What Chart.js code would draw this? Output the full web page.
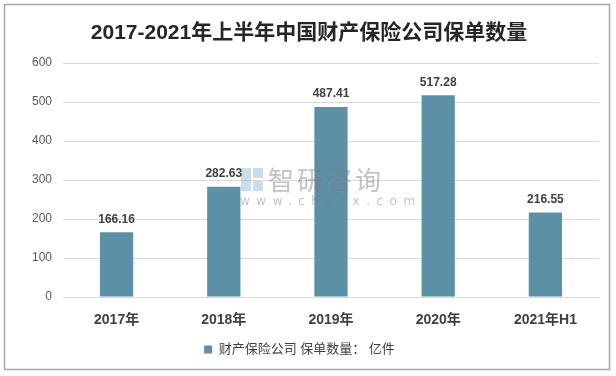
<!DOCTYPE html>
<html><head><meta charset="utf-8">
<script src="https://cdn.jsdelivr.net/npm/chart.js@4"></script>
<style>html,body{margin:0;padding:0;background:#fff}#w{width:616px;height:376px}</style>
</head><body><div id="w"><canvas id="c" width="616" height="376"></canvas></div>
<script>
const categories = ["2017年","2018年","2019年","2020年","2021年H1"];
const values = [166.16, 282.63, 487.41, 517.28, 216.55];
const seriesName = "财产保险公司 保单数量： 亿件";
const titleText = "2017-2021年上半年中国财产保险公司保单数量";
const yTicks = [0,100,200,300,400,500,600];

const FONT = "'Liberation Sans','Noto Sans CJK SC',sans-serif";

const deco = {
  id:'deco',
  beforeDraw(chart){
    const c = chart.ctx;
    c.save();
    c.fillStyle='#fff'; c.fillRect(0,0,chart.width,chart.height);
    c.strokeStyle='#a6a6a6'; c.lineWidth=1.5;
    c.strokeRect(4.5,4.5,605,365);
    c.fillStyle='#262626';
    c.font="bold 21px "+FONT;
    c.textAlign='center'; c.textBaseline='middle';
    c.fillText(titleText,309,33);
    c.restore();
  },
  afterDatasetsDraw(chart){
    const c = chart.ctx;
    c.save();
    // watermark
    c.fillStyle='rgba(120,120,120,0.45)';
    c.font="26px 'Noto Sans CJK SC',sans-serif";
    c.textAlign='left'; c.textBaseline='middle';
    try{c.letterSpacing='3px';}catch(e){}
    c.fillText("智研咨询",268,180);
    c.font="12px 'DejaVu Sans',sans-serif";
    try{c.letterSpacing='6.5px';}catch(e){}
    c.fillText("www.chyxx.com",240,202);
    try{c.letterSpacing='0px';}catch(e){}
    c.fillStyle='rgba(120,170,215,0.4)';
    c.fillRect(241,168,10,23);
    c.fillRect(253,168,10,10);
    c.fillRect(253,181,10,10);
    c.restore();

    const meta = chart.getDatasetMeta(0);
    c.save();
    c.fillStyle='#404040';
    c.font="bold 12px "+FONT;
    c.textAlign='center'; c.textBaseline='bottom';
    meta.data.forEach((bar,i)=>{
      c.fillText(values[i].toFixed(2), bar.x, bar.y-7);
    });
    c.restore();
  }
};

new Chart(document.getElementById('c'),{
  type:'bar',
  data:{labels:categories,datasets:[{label:seriesName,data:values,backgroundColor:'#5b90a6',barPercentage:0.31,categoryPercentage:1}]},
  options:{
    responsive:false,animation:false,
    layout:{padding:{top:63,right:17,left:0,bottom:10}},
    plugins:{
      legend:{position:'bottom',labels:{boxWidth:8,boxHeight:8,padding:8,color:'#404040',font:{size:13,family:FONT}}},
      tooltip:{enabled:false},
      title:{display:false}
    },
    scales:{
      x:{grid:{display:false,drawTicks:false},border:{color:'#d9d9d9',width:1},
         ticks:{color:'#404040',padding:15,font:{size:14,weight:'bold',family:FONT}},
         afterFit(s){s.height=38;}},
      y:{min:0,max:600,grid:{color:'#d9d9d9',drawTicks:false},border:{display:false},
         afterBuildTicks(s){s.ticks=yTicks.map(v=>({value:v}));},
         ticks:{color:'#595959',padding:11,font:{size:12,family:FONT}},
         afterFit(s){s.width=63;}}
    }
  },
  plugins:[deco]
});
</script></body></html>
